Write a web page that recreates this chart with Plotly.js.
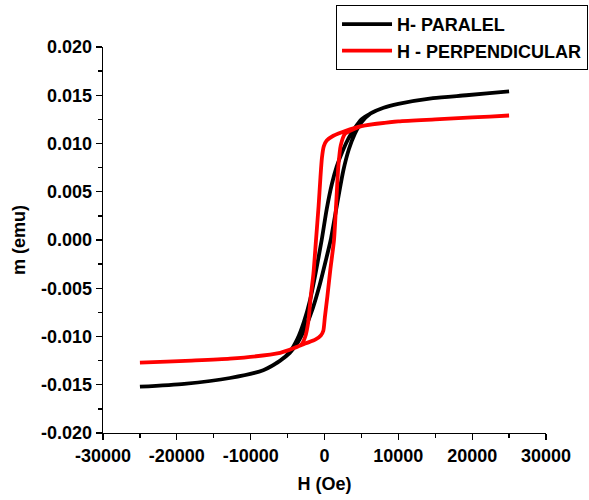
<!DOCTYPE html>
<html>
<head>
<meta charset="utf-8">
<script src="https://cdn.plot.ly/plotly-3.0.1.min.js"></script>
<style>html,body{margin:0;padding:0;background:#fff;}#chart{width:589px;height:500px;}</style>
</head>
<body>
<div id="chart"></div>
<script>
// H (Oe) and m (emu) — black loop "H- PARALEL": descending branch then ascending branch
const paralelH = [25000, 19200, 14700, 10000, 8000, 6200, 5000, 4100, 3300, 2500, 1650, 1000, 300, -380, -1200, -1950, -2800, -3700, -4700, -6000, -8300, -12800, -19000, -25000,
                  -19000, -12800, -8300, -6000, -4700, -3600, -2600, -1600, -600, 150, 840, 1700, 2550, 3300, 4100, 5000, 6200, 8000, 10000, 14700, 19200, 25000];
const paralelM = [0.0154, 0.0150, 0.0147, 0.0141, 0.0137, 0.0131, 0.0125, 0.0116, 0.0106, 0.0093, 0.0076, 0.0058, 0.0032, 0.0000, -0.0034, -0.0062, -0.0085, -0.0103, -0.0116, -0.0125, -0.0135, -0.0143, -0.0149, -0.0152,
                  -0.0149, -0.0143, -0.0135, -0.0125, -0.0117, -0.0106, -0.0091, -0.0071, -0.0045, -0.0022, 0.0000, 0.0037, 0.0072, 0.0094, 0.0110, 0.0122, 0.0131, 0.0137, 0.0141, 0.0147, 0.0150, 0.0154];

// red loop "H - PERPENDICULAR"
const perpH = [25000, 20000, 15000, 10000, 5000, 2800, 1200, 300, -100, -350, -550, -800, -1150, -1500, -1870, -2200, -2600, -3100, -3800, -6000, -12800, -18000, -25000,
               -18000, -12800, -6000, -3800, -2500, -1200, -500, -160, 50, 380, 800, 1290, 1600, 1870, 2200, 2780, 4000, 5000, 10000, 15000, 20000, 25000];
const perpM = [0.0129, 0.0127, 0.0125, 0.0123, 0.0118, 0.0113, 0.0108, 0.0103, 0.0097, 0.0085, 0.0065, 0.0035, 0.0000, -0.0035, -0.0059, -0.0085, -0.0100, -0.0108, -0.0111, -0.0117, -0.0123, -0.0125, -0.0127,
               -0.0125, -0.0123, -0.0117, -0.0111, -0.0107, -0.0103, -0.0099, -0.0094, -0.0080, -0.0059, -0.0030, 0.0000, 0.0040, 0.0076, 0.0098, 0.0110, 0.0115, 0.0118, 0.0123, 0.0125, 0.0127, 0.0129];

const seriesNames = ["H- PARALEL", "H - PERPENDICULAR"];
const xTickVals = [-30000, -20000, -10000, 0, 10000, 20000, 30000];
const xTickText = ["-30000", "-20000", "-10000", "0", "10000", "20000", "30000"];
const yTickVals = [-0.020, -0.015, -0.010, -0.005, 0.000, 0.005, 0.010, 0.015, 0.020];
const yTickText = ["-0.020", "-0.015", "-0.010", "-0.005", "0.000", "0.005", "0.010", "0.015", "0.020"];

function mids(a){ const r=[]; for(let i=0;i<a.length-1;i++) r.push((a[i]+a[i+1])/2); return r; }

const FONT = "Liberation Sans, Arial, sans-serif";
const traces = [
  {x: paralelH, y: paralelM, name: seriesNames[0], mode: 'lines', line: {color: '#000000', width: 3.8, shape: 'spline', smoothing: 0.6}},
  {x: perpH, y: perpM, name: seriesNames[1], mode: 'lines', line: {color: '#ff0000', width: 3.8, shape: 'spline', smoothing: 0.6}}
];

const axisCommon = {
  showline: true, linecolor: '#000', linewidth: 1.3, mirror: false,
  showgrid: false, zeroline: false,
  ticks: 'outside', ticklen: 6, tickwidth: 1.3, tickcolor: '#000',
  tickfont: {family: FONT, size: 18, weight: 'bold', color: '#000'},
  tickmode: 'array', automargin: false
};

const layout = {
  width: 589, height: 500,
  margin: {l: 103, r: 43, t: 47, b: 67, autoexpand: false},
  paper_bgcolor: '#fff', plot_bgcolor: '#fff',
  font: {family: FONT, color: '#000'},
  xaxis: Object.assign({}, axisCommon, {
    range: [-30000, 30000], tickvals: xTickVals, ticktext: xTickText,
    minor: {tickmode: 'array', tickvals: mids(xTickVals), ticks: 'outside', ticklen: 4, tickwidth: 1.3, tickcolor: '#000', showgrid: false},
    title: {text: 'H (Oe)', font: {family: FONT, size: 18, weight: 'bold', color: '#000'}, standoff: 12}
  }),
  yaxis: Object.assign({}, axisCommon, {
    range: [-0.020, 0.020], tickvals: yTickVals, ticktext: yTickText,
    minor: {tickmode: 'array', tickvals: mids(yTickVals), ticks: 'outside', ticklen: 4, tickwidth: 1.3, tickcolor: '#000', showgrid: false},
    title: {text: 'm (emu)', font: {family: FONT, size: 18, weight: 'bold', color: '#000'}, standoff: 10}
  }),
  showlegend: true,
  legend: {
    x: 0.526, y: 1.109, xanchor: 'left', yanchor: 'top',
    bgcolor: '#fff', bordercolor: '#000', borderwidth: 1,
    font: {family: FONT, size: 18, weight: 'bold', color: '#000'},
    itemwidth: 50, tracegroupgap: 0
  }
};

Plotly.newPlot('chart', traces, layout, {displayModeBar: false, staticPlot: true});
</script>
</body>
</html>
